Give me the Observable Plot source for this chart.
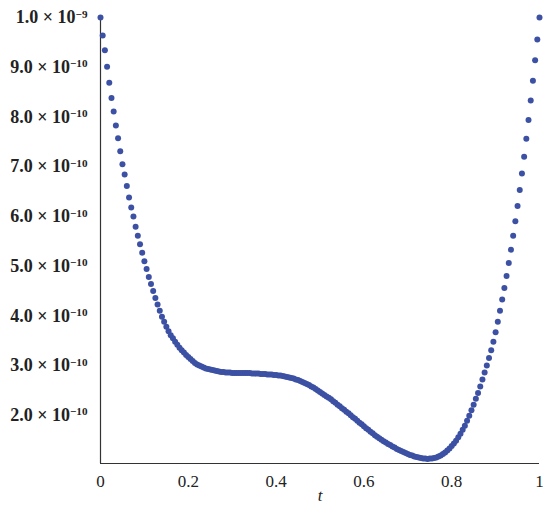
<!DOCTYPE html>
<html>
<head>
<meta charset="utf-8">
<script src="https://cdn.jsdelivr.net/npm/d3@7"></script>
<script src="https://cdn.jsdelivr.net/npm/@observablehq/plot@0.6"></script>
<style>
  html, body { margin: 0; padding: 0; background: #fff; }
  svg { display: block; }
</style>
</head>
<body>
<div id="chart"></div>
<script>
// t sample values
const tValues = [
  0,0.005,0.01,0.015,0.02,0.025,0.03,0.035,0.04,0.045,0.05,0.055,0.06,0.065,0.07,0.075,0.08,0.085,0.09,0.095,
  0.1,0.105,0.11,0.115,0.12,0.125,0.13,0.135,0.14,0.145,0.15,0.155,0.16,0.165,0.17,0.175,0.18,0.185,0.19,0.195,
  0.2,0.205,0.21,0.215,0.22,0.225,0.23,0.235,0.24,0.245,0.25,0.255,0.26,0.265,0.27,0.275,0.28,0.285,0.29,0.295,
  0.3,0.305,0.31,0.315,0.32,0.325,0.33,0.335,0.34,0.345,0.35,0.355,0.36,0.365,0.37,0.375,0.38,0.385,0.39,0.395,
  0.4,0.405,0.41,0.415,0.42,0.425,0.43,0.435,0.44,0.445,0.45,0.455,0.46,0.465,0.47,0.475,0.48,0.485,0.49,0.495,
  0.5,0.505,0.51,0.515,0.52,0.525,0.53,0.535,0.54,0.545,0.55,0.555,0.56,0.565,0.57,0.575,0.58,0.585,0.59,0.595,
  0.6,0.605,0.61,0.615,0.62,0.625,0.63,0.635,0.64,0.645,0.65,0.655,0.66,0.665,0.67,0.675,0.68,0.685,0.69,0.695,
  0.7,0.705,0.71,0.715,0.72,0.725,0.73,0.735,0.74,0.745,0.75,0.755,0.76,0.765,0.77,0.775,0.78,0.785,0.79,0.795,
  0.8,0.805,0.81,0.815,0.82,0.825,0.83,0.835,0.84,0.845,0.85,0.855,0.86,0.865,0.87,0.875,0.88,0.885,0.89,0.895,
  0.9,0.905,0.91,0.915,0.92,0.925,0.93,0.935,0.94,0.945,0.95,0.955,0.96,0.965,0.97,0.975,0.98,0.985,0.99,0.995,
  1
];
// series values, in units of 1e-10
const valuesE10 = [
  10.00,9.64,9.34,9.01,8.69,8.38,8.11,7.83,7.57,7.31,7.05,6.84,6.61,6.38,6.18,6.00,5.79,5.61,5.44,5.27,
  5.10,4.94,4.78,4.64,4.50,4.36,4.23,4.10,3.98,3.88,3.78,3.69,3.61,3.55,3.48,3.42,3.36,3.31,3.26,3.21,
  3.17,3.13,3.09,3.05,3.02,3.00,2.98,2.96,2.94,2.93,2.92,2.91,2.90,2.89,2.88,2.87,2.87,2.86,2.86,2.86,
  2.85,2.85,2.85,2.85,2.85,2.85,2.85,2.85,2.85,2.84,2.84,2.84,2.84,2.83,2.83,2.83,2.82,2.82,2.82,2.81,
  2.81,2.80,2.80,2.79,2.78,2.77,2.76,2.75,2.74,2.72,2.71,2.69,2.67,2.65,2.63,2.61,2.58,2.56,2.53,2.50,
  2.47,2.44,2.41,2.38,2.35,2.32,2.28,2.25,2.21,2.18,2.14,2.11,2.07,2.04,2.00,1.96,1.93,1.89,1.85,1.82,
  1.78,1.74,1.71,1.67,1.64,1.60,1.57,1.54,1.51,1.48,1.45,1.42,1.40,1.37,1.35,1.32,1.30,1.28,1.26,1.24,
  1.22,1.20,1.19,1.17,1.16,1.15,1.14,1.13,1.13,1.12,1.13,1.13,1.14,1.15,1.17,1.19,1.22,1.25,1.29,1.33,
  1.38,1.43,1.49,1.56,1.63,1.71,1.79,1.89,1.99,2.10,2.21,2.33,2.45,2.58,2.72,2.86,3.00,3.15,3.31,3.48,
  3.67,3.88,4.10,4.33,4.56,4.80,5.06,5.33,5.61,5.90,6.21,6.53,6.86,7.20,7.56,7.94,8.33,8.73,9.14,9.56,
  10.00
];
const xTicks = [0, 0.2, 0.4, 0.6, 0.8, 1];
const xTickLabels = ["0", "0.2", "0.4", "0.6", "0.8", "1"];
const yTicks = [2, 3, 4, 5, 6, 7, 8, 9, 10];
const yTickMantissas = ["2.0 × 10", "3.0 × 10", "4.0 × 10", "5.0 × 10", "6.0 × 10",
                        "7.0 × 10", "8.0 × 10", "9.0 × 10", "1.0 × 10"];
const yTickExponents = ["−10", "−10", "−10", "−10", "−10", "−10", "−10", "−10", "−9"];
const xLabel = ["t"];
const yMin = 1.03, yMax = 10;

const data = tValues.map((t, i) => ({t, v: valuesE10[i]}));
const color = "#3c51a3";
const serif = "'Liberation Serif', 'Times New Roman', serif";

const chart = Plot.plot({
  width: 550,
  height: 514,
  marginLeft: 100,
  marginRight: 11,
  marginTop: 17,
  marginBottom: 51,
  style: {fontFamily: serif, fontSize: "17px", color: "#222", background: "#fff"},
  x: {domain: [0, 1]},
  y: {domain: [yMin, yMax]},
  marks: [
    Plot.axisX({ticks: xTicks, tickFormat: (d) => xTickLabels[xTicks.indexOf(d)], tickSize: 0, tickPadding: 11, fontSize: 17, fontFamily: serif, label: null}),
    Plot.axisY({ticks: yTicks, tickFormat: (d) => yTickMantissas[yTicks.indexOf(d)], tickSize: 0, tickPadding: 13, fontSize: 18, fontWeight: "bold", fontFamily: serif, label: null}),
    Plot.ruleX([0], {stroke: "#333", strokeWidth: 1.2}),
    Plot.ruleY([yMin], {stroke: "#333", strokeWidth: 1.2}),
    Plot.text(xLabel, {text: (d) => d, frameAnchor: "bottom", dy: 37, fontSize: 17, fontStyle: "italic", fontFamily: serif}),
    Plot.dot(data, {x: "t", y: "v", r: 3, fill: color, stroke: null})
  ]
});
document.getElementById("chart").appendChild(chart);

// add superscript exponents to the y tick labels
d3.select(chart).selectAll("text").each(function () {
  const el = d3.select(this);
  const txt = el.text();
  const i = yTickMantissas.indexOf(txt);
  if (i >= 0) {
    el.append("tspan")
      .attr("dy", "-0.5em")
      .attr("font-size", "0.62em")
      .text(yTickExponents[i]);
  }
});
</script>
</body>
</html>
